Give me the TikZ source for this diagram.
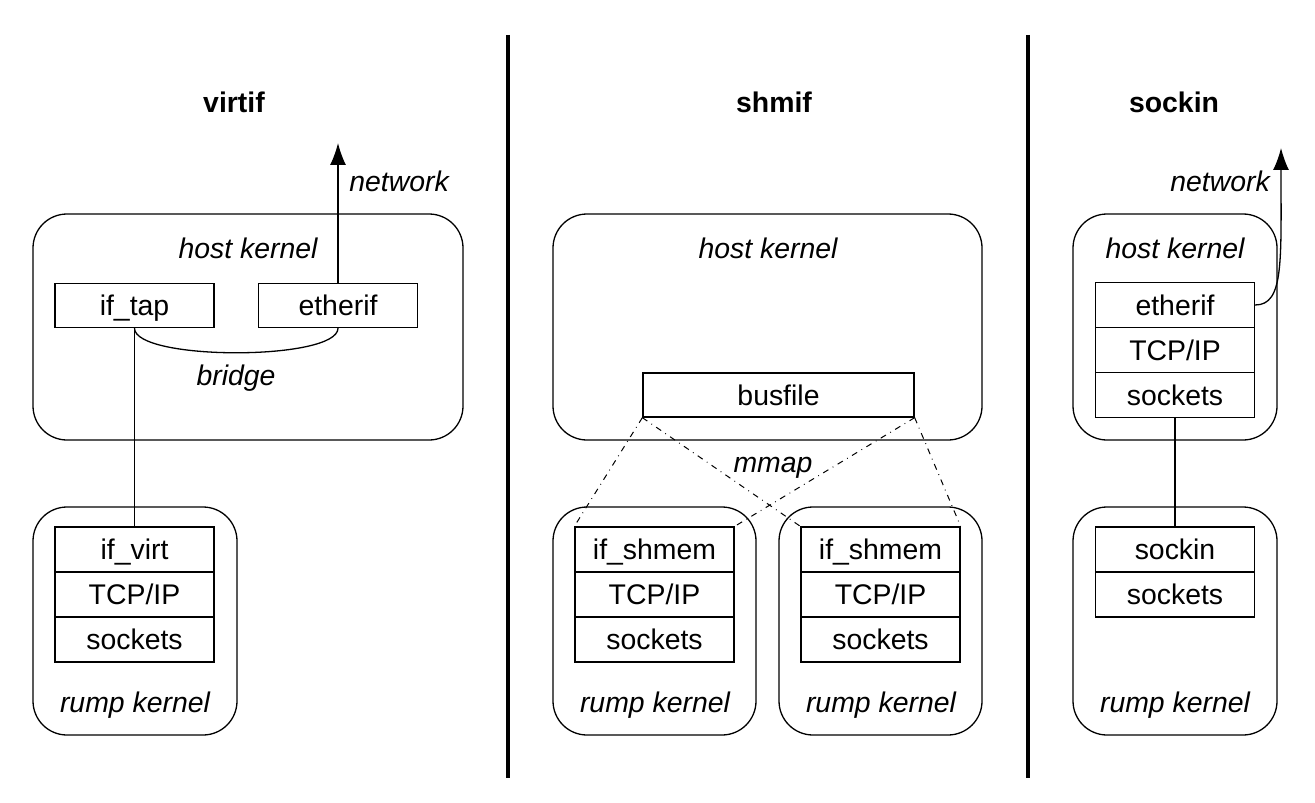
\documentclass[tikz,border=0pt]{standalone}
\usepackage{fontspec}
\setmainfont{Liberation Sans}
\usetikzlibrary{arrows.meta}
\begin{document}
\begin{tikzpicture}[x=0.5pt,y=-0.5pt,
  every node/.style={font=\fontsize{14.2}{17}\selectfont, inner sep=0pt, text height=11.8pt, text depth=1.4pt},
  ln/.style={line width=0.65pt},
  kern/.style={draw, ln, rounded corners=17pt, text height=, text depth=},
  cell/.style={draw, ln, minimum width=79.5pt, minimum height=22.5pt},
  lbl/.style={font=\fontsize{14.2}{17}\selectfont\itshape},
  ttl/.style={font=\fontsize{14.2}{17}\selectfont\bfseries},
  mm/.style={ln, line width=0.5pt, dash pattern=on 3pt off 2.5pt on 0.4pt off 2.5pt},
  arr/.style={ln, -{Latex[length=11pt,width=8pt]}}
]
\useasboundingbox (0,0) rectangle (1315,802);

% dividers
\coordinate (d1a) at (508,35); \coordinate (d1b) at (508,778);
\coordinate (d2a) at (1028,35); \coordinate (d2b) at (1028,778);
\draw[line width=2pt] (d1a) -- (d1b);
\draw[line width=2pt] (d2a) -- (d2b);

% titles
\node[ttl] (t1) at (234,102) {virtif};
\node[ttl] (t2) at (774,102) {shmif};
\node[ttl] (t3) at (1174,102) {sockin};

% ---------- virtif ----------
\node[kern, minimum width=215pt, minimum height=113pt] (hk1) at (248,327) {};
\node[lbl] (hk1l) at (248,248) {host kernel};
\node[cell, minimum height=22pt] (iftap) at (134.5,305.5) {if\_tap};
\node[cell, minimum height=22pt] (eth1) at (338,305.5) {etherif};
\coordinate (net1) at (338,143);
\draw[arr] (eth1.north) -- (net1);
\node[lbl] (net1l) at (399,181) {network};
\draw[ln] (iftap.south) .. controls (134.5,361) and (338,361) .. (eth1.south);
\node[lbl] (bridge) at (236,375) {bridge};

\node[kern, minimum width=102pt, minimum height=114pt] (rk1) at (135,621) {};
\node[cell] (ifvirt) at (134.5,549.5) {if\_virt};
\node[cell] (tcp1) at (134.5,594.5) {TCP/IP};
\node[cell] (sock1) at (134.5,639.5) {sockets};
\node[lbl] (rk1l) at (135,702) {rump kernel};
\draw[ln] (iftap.south) -- (ifvirt.north);

% ---------- shmif ----------
\node[kern, minimum width=214.5pt, minimum height=113pt] (hk2) at (767.5,327) {};
\node[lbl] (hk2l) at (768,248) {host kernel};
\node[cell, minimum width=135.5pt, minimum height=22pt] (bus) at (778.5,395) {busfile};
\node[lbl] (mmap) at (773,462) {mmap};

\node[kern, minimum width=101.5pt, minimum height=114pt] (rk2) at (654.5,621) {};
\node[cell] (shm1) at (654.5,549.5) {if\_shmem};
\node[cell] (tcp2) at (654.5,594.5) {TCP/IP};
\node[cell] (sock2) at (654.5,639.5) {sockets};
\node[lbl] (rk2l) at (655,702) {rump kernel};

\node[kern, minimum width=101.5pt, minimum height=114pt] (rk3) at (880.5,621) {};
\node[cell] (shm2) at (880.5,549.5) {if\_shmem};
\node[cell] (tcp3) at (880.5,594.5) {TCP/IP};
\node[cell] (sock3) at (880.5,639.5) {sockets};
\node[lbl] (rk3l) at (881,702) {rump kernel};

\draw[mm] (bus.south west) -- (shm1.north west);
\draw[mm] (bus.south west) -- (shm2.north west);
\draw[mm] (bus.south east) -- (shm1.north east);
\draw[mm] (bus.south east) -- (shm2.north east);

% ---------- sockin ----------
\node[kern, minimum width=102pt, minimum height=113pt] (hk4) at (1175,327) {};
\node[lbl] (hk4l) at (1175,248) {host kernel};
\node[cell] (eth4) at (1175,305) {etherif};
\node[cell] (tcp4) at (1175,350) {TCP/IP};
\node[cell] (sock4) at (1175,395) {sockets};
\coordinate (net4) at (1281,148);
\draw[arr] (eth4.east) .. controls (1284,305) and (1281,262) .. (net4);
\node[lbl] (net4l) at (1220,181) {network};

\node[kern, minimum width=102pt, minimum height=114pt] (rk4) at (1175,621) {};
\node[cell] (sockin) at (1175,549.5) {sockin};
\node[cell] (sock5) at (1175,594.5) {sockets};
\node[lbl] (rk4l) at (1175,702) {rump kernel};
\draw[ln] (sock4.south) -- (sockin.north);
\end{tikzpicture}
\end{document}
